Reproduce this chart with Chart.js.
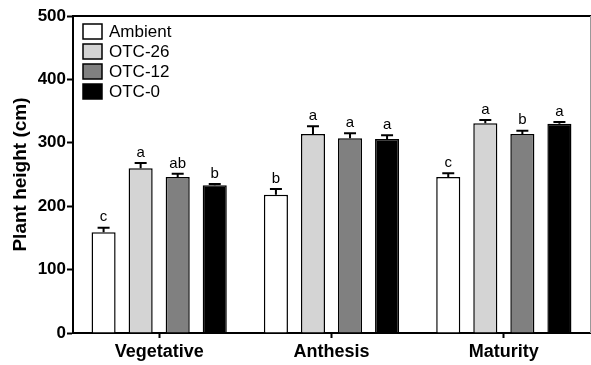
<!DOCTYPE html>
<html><head><meta charset="utf-8">
<script src="https://cdn.jsdelivr.net/npm/chart.js@4"></script>
<style>html,body{margin:0;padding:0;background:#fff}#w{width:591px;height:365px}</style>
</head><body><div id="w"><canvas id="c"></canvas></div>
<script>
const categories = ['Vegetative', 'Anthesis', 'Maturity'];
const seriesNames = ['Ambient', 'OTC-26', 'OTC-12', 'OTC-0'];
const ambient = [159, 218, 246];
const otc26 = [260, 314, 331];
const otc12 = [246, 307, 314];
const otc0 = [233, 306, 330];
const ambientSE = [7, 9, 6];
const otc26SE = [8, 12, 5];
const otc12SE = [5, 8, 5];
const otc0SE = [2, 6, 3];
const ambientLetters = ['c', 'b', 'c'];
const otc26Letters = ['a', 'a', 'a'];
const otc12Letters = ['ab', 'a', 'b'];
const otc0Letters = ['b', 'a', 'a'];
const yTicks = [0, 100, 200, 300, 400, 500];

const values = [ambient, otc26, otc12, otc0];
const ses = [ambientSE, otc26SE, otc12SE, otc0SE];
const letters = [ambientLetters, otc26Letters, otc12Letters, otc0Letters];
const fills = ['#ffffff', '#d4d4d4', '#808080', '#000000'];

const FONT = "'Liberation Sans', Arial, sans-serif";

const errorPlugin = {
  id: 'errs',
  afterDatasetsDraw(chart) {
    const ctx = chart.ctx;
    const y = chart.scales.y;
    chart.data.datasets.forEach((ds, di) => {
      const meta = chart.getDatasetMeta(di);
      meta.data.forEach((bar, i) => {
        const top = y.getPixelForValue(ds.data[i] + ds.se[i]);
        const base = y.getPixelForValue(ds.data[i]);
        ctx.save();
        ctx.strokeStyle = '#000';
        ctx.lineWidth = 2;
        ctx.beginPath();
        ctx.moveTo(bar.x, base);
        ctx.lineTo(bar.x, top);
        ctx.moveTo(bar.x - 6, top);
        ctx.lineTo(bar.x + 6, top);
        ctx.stroke();
        ctx.fillStyle = '#000';
        ctx.font = '15px ' + FONT;
        ctx.textAlign = 'center';
        ctx.textBaseline = 'bottom';
        ctx.fillText(ds.letters[i], bar.x, top - 3);
        ctx.restore();
      });
    });
  },
  afterDraw(chart) {
    const ctx = chart.ctx;
    const a = chart.chartArea;
    ctx.save();
    ctx.strokeStyle = '#000';
    ctx.lineWidth = 2;
    ctx.beginPath();
    ctx.moveTo(a.left - 1, a.top);
    ctx.lineTo(chart.width, a.top);
    ctx.stroke();
    ctx.strokeStyle = '#999';
    ctx.lineWidth = 1;
    ctx.beginPath();
    ctx.moveTo(a.right + 0.5, a.top);
    ctx.lineTo(a.right + 0.5, a.bottom);
    ctx.stroke();
    // legend
    ctx.font = '17px ' + FONT;
    ctx.textBaseline = 'middle';
    ctx.textAlign = 'left';
    chart.data.datasets.forEach((ds, di) => {
      const bx = a.left + 10, by = a.top + 8 + di * 20;
      ctx.fillStyle = ds.backgroundColor;
      ctx.fillRect(bx, by, 19, 15);
      ctx.strokeStyle = '#000';
      ctx.lineWidth = 1.5;
      ctx.strokeRect(bx, by, 19, 15);
      ctx.fillStyle = '#000';
      ctx.fillText(ds.label, a.left + 36, by + 8);
    });
    ctx.restore();
  }
};

new Chart(document.getElementById('c'), {
  type: 'bar',
  data: {
    labels: categories,
    datasets: seriesNames.map((n, k) => ({
      label: n,
      data: values[k],
      se: ses[k],
      letters: letters[k],
      backgroundColor: fills[k],
      borderColor: '#000',
      borderWidth: 1.5,
      categoryPercentage: 0.86,
      barPercentage: 0.65
    }))
  },
  options: {
    responsive: true,
    maintainAspectRatio: false,
    animation: false,
    layout: { padding: { top: 16, right: 1, left: 0, bottom: 0 } },
    plugins: { legend: { display: false }, tooltip: { enabled: false } },
    scales: {
      x: {
        grid: { display: true, drawOnChartArea: false, offset: false, color: '#000', tickLength: 5, tickWidth: 2 },
        border: { color: '#000', width: 2 },
        ticks: { color: '#000', font: { family: FONT, size: 18, weight: 'bold' }, padding: 3 },
        afterFit(s) { s.height = 32; }
      },
      y: {
        min: 0, max: 500,
        afterBuildTicks(s) { s.ticks = yTicks.map(v => ({ value: v })); },
        grid: { display: true, drawOnChartArea: false, color: '#000', tickLength: 6, tickWidth: 2 },
        border: { color: '#000', width: 2 },
        ticks: { color: '#000', font: { family: FONT, size: 17, weight: 'bold' }, padding: 1 },
        title: { display: true, text: 'Plant height (cm)', color: '#000', font: { family: FONT, size: 19, weight: 'bold' }, padding: { top: 9, bottom: 0 } },
        afterFit(s) { s.width = 73; }
      }
    }
  },
  plugins: [errorPlugin]
});
</script>
</body></html>
